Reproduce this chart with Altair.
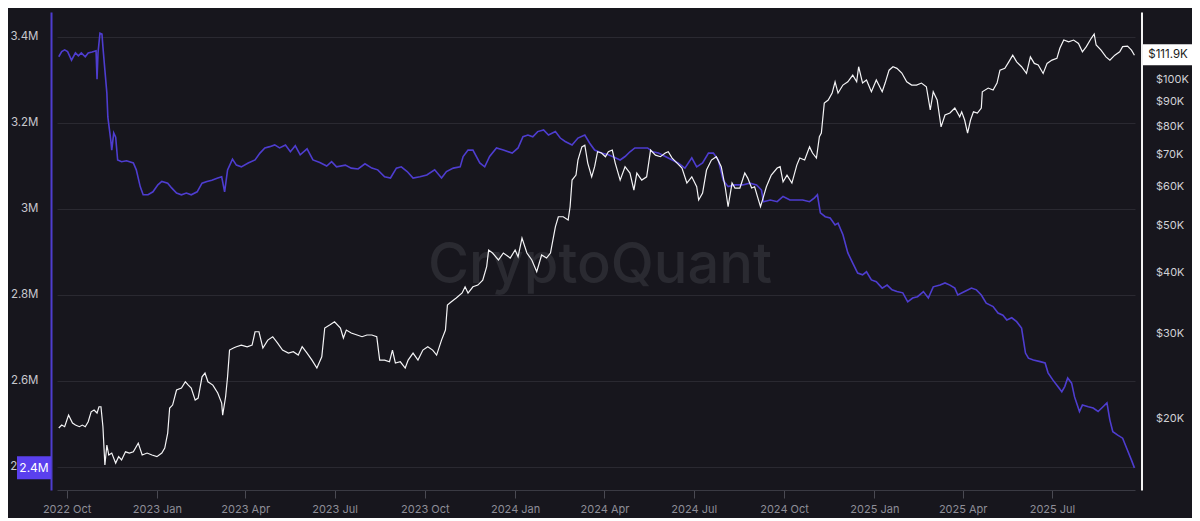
import altair as alt
import pandas as pd

# ---- data (days counted from 2022-10-01) ----
START = "2022-10-01"

reserve_day = [-8, -5, -2, 1, 5, 9, 12, 15, 19, 22, 26, 30, 31, 32, 34, 36, 37, 39, 41, 42,
               45, 46, 48, 50, 52, 56, 61, 68, 71, 75, 78, 83, 88, 93, 97, 103, 107, 112, 117, 122,
               127, 133, 138, 143, 148, 154, 158, 161, 164, 169, 173, 178, 185, 192, 197, 202, 207, 212, 217, 223,
               228, 233, 238, 245, 251, 258, 265, 270, 275, 284, 290, 297, 304, 311, 317, 324, 330, 336, 341, 347,
               353, 360, 367, 375, 382, 387, 394, 401, 404, 409, 414, 421, 426, 431, 438, 445, 454, 460, 465, 470,
               475, 480, 486, 491, 498, 503, 508, 515, 521, 528, 533, 538, 545, 552, 559, 564, 569, 574, 579, 586,
               592, 597, 603, 610, 617, 623, 630, 637, 642, 648, 654, 659, 664, 669, 674, 681, 689, 696, 703, 708,
               710, 717, 724, 730, 737, 744, 750, 757, 762, 765, 768, 773, 778, 783, 786, 791, 796, 801, 806, 811,
               815, 820, 825, 831, 836, 841, 846, 852, 857, 862, 867, 873, 878, 883, 890, 895, 900, 905, 908, 915,
               922, 927, 932, 937, 944, 949, 954, 958, 963, 968, 973, 977, 980, 985, 992, 997, 1000, 1005, 1010, 1014,
               1017, 1020, 1024, 1027, 1032, 1035, 1041, 1046, 1051, 1056, 1060, 1063, 1066, 1071, 1076, 1080, 1085, 1088]

reserve_m = [3.354, 3.366, 3.370, 3.366, 3.346, 3.363, 3.356, 3.363, 3.354, 3.363, 3.365, 3.368, 3.302, 3.363, 3.409, 3.407, 3.377, 3.323, 3.270, 3.214,
             3.160, 3.137, 3.177, 3.167, 3.114, 3.110, 3.112, 3.107, 3.091, 3.052, 3.033, 3.033, 3.040, 3.056, 3.064, 3.060, 3.049, 3.037, 3.033, 3.037,
             3.033, 3.040, 3.060, 3.064, 3.067, 3.072, 3.075, 3.040, 3.091, 3.116, 3.102, 3.098, 3.107, 3.114, 3.130, 3.142, 3.145, 3.149, 3.142, 3.149,
             3.133, 3.147, 3.126, 3.140, 3.114, 3.108, 3.100, 3.110, 3.098, 3.102, 3.095, 3.093, 3.105, 3.095, 3.091, 3.075, 3.072, 3.095, 3.098, 3.087,
             3.072, 3.075, 3.079, 3.091, 3.072, 3.087, 3.095, 3.098, 3.122, 3.137, 3.137, 3.107, 3.098, 3.122, 3.142, 3.137, 3.130, 3.142, 3.168, 3.172,
             3.168, 3.180, 3.184, 3.172, 3.180, 3.165, 3.157, 3.149, 3.165, 3.172, 3.153, 3.137, 3.130, 3.126, 3.119, 3.114, 3.122, 3.133, 3.142, 3.142,
             3.142, 3.133, 3.130, 3.122, 3.114, 3.107, 3.095, 3.119, 3.098, 3.107, 3.130, 3.130, 3.114, 3.067, 3.052, 3.056, 3.056, 3.060, 3.056, 3.044,
             3.017, 3.021, 3.017, 3.029, 3.021, 3.021, 3.021, 3.017, 3.026, 3.033, 2.991, 2.982, 2.979, 2.963, 2.967, 2.940, 2.898, 2.874, 2.851, 2.847,
             2.854, 2.835, 2.831, 2.816, 2.823, 2.812, 2.808, 2.805, 2.784, 2.793, 2.796, 2.808, 2.793, 2.819, 2.823, 2.828, 2.823, 2.816, 2.800, 2.808,
             2.816, 2.812, 2.800, 2.781, 2.773, 2.758, 2.753, 2.742, 2.747, 2.738, 2.723, 2.665, 2.653, 2.649, 2.645, 2.642, 2.619, 2.602, 2.587, 2.575,
             2.587, 2.607, 2.595, 2.563, 2.529, 2.544, 2.540, 2.537, 2.529, 2.540, 2.549, 2.509, 2.482, 2.474, 2.467, 2.444, 2.416, 2.398]

price_day = [-8, -5, -2, 2, 6, 9, 13, 16, 19, 22, 25, 28, 31, 33, 35, 37, 39, 41, 43, 46,
             50, 53, 56, 60, 64, 68, 73, 77, 82, 87, 92, 97, 100, 103, 105, 108, 112, 117, 121, 124,
             127, 131, 134, 138, 141, 144, 149, 154, 158, 159, 162, 164, 166, 170, 173, 178, 184, 189, 192, 196,
             200, 205, 210, 215, 220, 226, 231, 236, 240, 245, 250, 255, 260, 263, 268, 273, 279, 282, 285, 290,
             296, 301, 306, 311, 316, 319, 324, 329, 332, 335, 340, 345, 348, 353, 358, 363, 368, 373, 377, 382,
             386, 388, 392, 397, 403, 406, 409, 414, 419, 424, 428, 430, 434, 440, 445, 452, 457, 460, 464, 469,
             474, 479, 484, 489, 493, 498, 501, 506, 511, 513, 515, 519, 521, 525, 528, 531, 535, 538, 541, 545,
             549, 552, 556, 559, 564, 569, 574, 578, 581, 586, 591, 595, 600, 605, 610, 613, 617, 622, 627, 632,
             637, 642, 644, 648, 652, 657, 662, 667, 671, 674, 678, 681, 686, 691, 694, 698, 701, 704, 707, 710,
             713, 718, 724, 727, 730, 734, 739, 744, 747, 752, 757, 760, 764, 767, 769, 772, 776, 780, 783, 786,
             791, 796, 801, 805, 807, 811, 815, 820, 825, 831, 834, 838, 842, 846, 851, 856, 861, 866, 871, 876,
             880, 883, 887, 891, 895, 900, 905, 910, 912, 915, 918, 921, 924, 928, 932, 933, 939, 944, 948, 951,
             956, 960, 964, 968, 973, 978, 982, 986, 990, 995, 999, 1004, 1009, 1012, 1016, 1021, 1026, 1031, 1035, 1039,
             1044, 1047, 1049, 1054, 1059, 1063, 1068, 1073, 1076, 1081, 1085, 1088]

price_k = [19.14, 19.41, 19.26, 20.35, 19.60, 19.41, 19.26, 19.41, 19.26, 19.72, 20.67, 20.84, 20.55, 21.17, 21.17, 19.26, 16.06, 17.65, 16.84, 17.00,
           16.21, 16.71, 16.45, 17.10, 17.00, 17.10, 17.82, 16.84, 17.00, 16.84, 16.71, 17.00, 17.41, 18.69, 21.04, 21.34, 22.92, 23.13, 23.83, 23.46,
           23.13, 21.85, 22.06, 24.40, 24.84, 23.83, 23.46, 22.59, 21.54, 20.35, 22.20, 24.40, 27.69, 27.96, 28.13, 28.35, 28.13, 28.35, 30.20, 30.20,
           27.96, 29.03, 29.50, 28.62, 27.69, 27.30, 27.47, 27.04, 28.13, 27.30, 26.41, 25.43, 26.82, 30.74, 31.17, 31.67, 30.74, 29.32, 30.45, 30.02,
           29.74, 29.50, 29.74, 29.74, 29.50, 26.41, 26.41, 26.20, 27.69, 26.04, 26.20, 25.43, 26.41, 27.30, 26.41, 27.69, 28.13, 27.69, 27.04, 29.03,
           30.45, 34.28, 34.82, 35.44, 36.29, 37.37, 36.29, 37.37, 37.68, 38.58, 41.10, 44.48, 43.86, 42.43, 43.86, 42.83, 44.48, 43.09, 47.08, 43.86,
           42.43, 40.13, 43.44, 42.83, 43.86, 49.66, 52.08, 52.08, 51.28, 54.61, 61.96, 63.45, 68.13, 72.52, 73.11, 67.17, 62.93, 66.02, 70.88, 70.44,
           69.22, 70.88, 71.44, 67.17, 61.96, 66.02, 64.06, 59.11, 64.06, 61.96, 62.93, 71.44, 69.74, 69.22, 70.44, 70.88, 68.78, 67.17, 65.60, 61.10,
           62.93, 60.03, 56.37, 58.27, 64.98, 68.13, 69.22, 66.02, 60.03, 54.61, 61.10, 59.67, 59.67, 64.06, 62.54, 59.67, 60.03, 57.24, 54.61, 57.24,
           60.03, 63.45, 65.60, 66.02, 61.47, 63.45, 61.10, 66.53, 68.78, 68.13, 72.52, 70.44, 68.78, 76.10, 77.44, 89.27, 90.54, 93.58, 98.72, 93.58,
           97.20, 98.72, 101.9, 98.72, 106.0, 98.12, 99.53, 94.16, 99.53, 94.16, 98.12, 104.3, 106.0, 105.2, 102.9, 98.72, 97.20, 97.20, 98.12, 96.42,
           86.37, 94.16, 90.54, 79.74, 84.33, 85.14, 87.18, 83.62, 85.62, 82.37, 77.44, 82.37, 85.62, 85.14, 87.18, 94.16, 95.83, 94.93, 98.12, 104.3,
           105.2, 108.5, 112.0, 108.5, 106.0, 102.7, 111.1, 107.7, 106.9, 102.7, 107.7, 109.4, 110.3, 115.7, 120.3, 119.3, 120.3, 118.4, 113.8, 116.6,
           121.3, 123.8, 117.5, 114.7, 111.1, 109.4, 112.0, 113.8, 116.6, 116.9, 114.7, 111.9]

reserve_ticks = [2.4, 2.6, 2.8, 3.0, 3.2, 3.4]
price_ticks = [20, 30, 40, 50, 60, 70, 80, 90, 100]
quarter_ticks = [(2022, 10), (2023, 1), (2023, 4), (2023, 7), (2023, 10), (2024, 1),
                 (2024, 4), (2024, 7), (2024, 10), (2025, 1), (2025, 4), (2025, 7)]
watermark = ["CryptoQuant"]

# ---- tables ----
base = pd.Timestamp(START)


def to_dates(days):
    return (base + pd.to_timedelta(days, unit="D")).strftime("%Y-%m-%dT00:00:00")


reserve = pd.DataFrame({"date": to_dates(reserve_day), "value": reserve_m})
price = pd.DataFrame({"date": to_dates(price_day), "value": price_k})
reserve_last = reserve.tail(1).assign(label=f"{reserve_m[-1]:.1f}M")
price_last = price.tail(1).assign(label=f"${price_k[-1]}K")

BG = "#17161d"
BLUE = "#4e3dcf"
BOX_BLUE = "#5a40ee"
FONT = "Inter"

x_enc = alt.X(
    "date:T",
    scale=alt.Scale(domain=[alt.DateTime(year=2022, month=9, date=21, hours=5),
                            alt.DateTime(year=2025, month=9, date=23, hours=14)]),
    axis=alt.Axis(
        values=[alt.DateTime(year=y, month=m, date=1) for y, m in quarter_ticks],
        format="%Y %b", title=None, grid=False,
        domainColor="#3a3a43", tickColor="#4a4a53", tickSize=8,
        labelColor="#8e8e98", labelFontSize=11, labelPadding=5, labelFont=FONT,
    ),
)

reserve_scale = alt.Scale(domain=[2.3465, 3.4581], zero=False, nice=False)
price_scale = alt.Scale(type="log", domain=[14.27, 137.4], nice=False)

reserve_axis = alt.Axis(
    orient="left", values=reserve_ticks, labelExpr="format(datum.value, '.1~f') + 'M'",
    title=None, grid=True, gridColor="#2a2931", gridWidth=1,
    domainColor=BLUE, domainWidth=2, offset=6, ticks=False, labelPadding=13,
    labelColor="#c8c8ce", labelFontSize=11.5, labelFont=FONT,
)
price_axis = alt.Axis(
    orient="right", values=price_ticks, labelExpr="'$' + datum.value + 'K'",
    title=None, grid=False,
    domainColor="#f2f2f2", domainWidth=2, offset=6.5, ticks=False, labelPadding=14,
    labelColor="#d0d0d5", labelFontSize=11, labelFont=FONT,
)

mark_layer = alt.Chart(pd.DataFrame({"t": watermark})).mark_text(
    font=FONT, fontSize=56, fontWeight=500, color="#2a2a31", align="center", baseline="alphabetic"
).encode(x=alt.value(543), y=alt.value(271), text="t:N")

reserve_y = alt.Y("value:Q", scale=reserve_scale, axis=reserve_axis)
price_y = alt.Y("value:Q", scale=price_scale, axis=price_axis)

reserve_line = alt.Chart(reserve).mark_line(color=BLUE, strokeWidth=1.6).encode(x=x_enc, y=reserve_y)
reserve_box = alt.Chart(reserve_last).mark_rect(color=BOX_BLUE, yOffset=-11.5, y2Offset=11.5).encode(
    x=alt.value(-40), x2=alt.value(-6), y=reserve_y, y2=alt.Y2("value")
)
reserve_text = alt.Chart(reserve_last).mark_text(
    color="white", font=FONT, fontSize=12, align="center", baseline="middle"
).encode(x=alt.value(-23), y=reserve_y, text="label:N")

price_line = alt.Chart(price).mark_line(color="#f4f4f6", strokeWidth=1.2).encode(x=x_enc, y=price_y)
price_box = alt.Chart(price_last).mark_rect(color="#ffffff", yOffset=-11, y2Offset=10).encode(
    x=alt.value(1086), x2=alt.value(1136), y=price_y, y2=alt.Y2("value")
)
price_text = alt.Chart(price_last).mark_text(
    color="#1a1a20", font=FONT, fontSize=11.5, align="center", baseline="middle", dy=-0.5
).encode(x=alt.value(1111), y=price_y, text="label:N")

reserve_group = alt.layer(reserve_line, reserve_box, reserve_text)
price_group = alt.layer(price_line, price_box, price_text)

chart = alt.layer(mark_layer, reserve_group, price_group).resolve_scale(y="independent").properties(
    width=1078, height=478,
    autosize=alt.AutoSizeParams(type="none"),
    padding={"left": 49, "top": 4, "right": 57, "bottom": 28},
    background=BG,
).configure_view(stroke=None)

chart.save("out.html", embed_options={"renderer": "svg", "actions": False})
